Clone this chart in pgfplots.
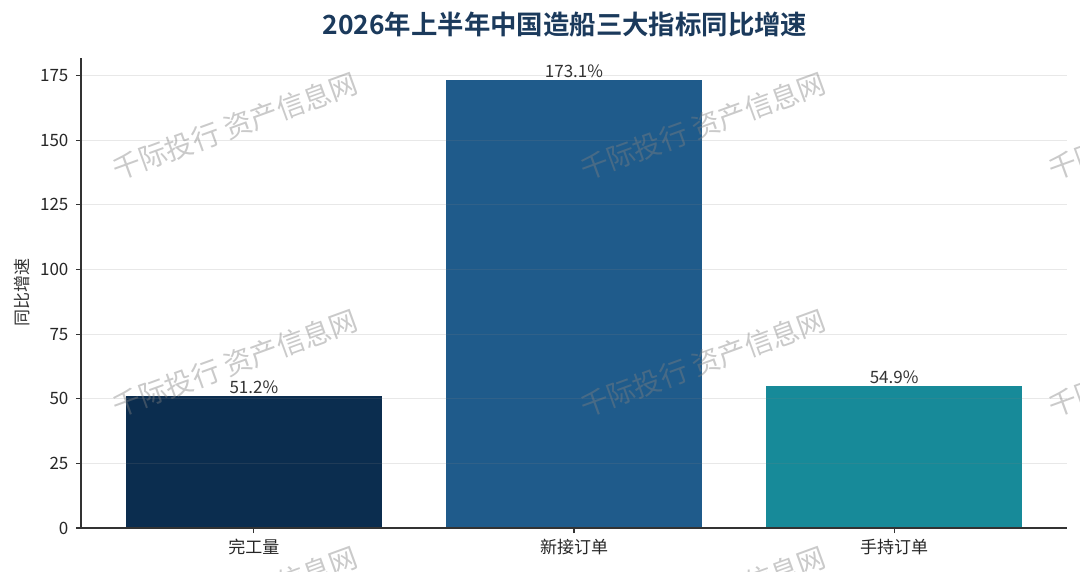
\documentclass[border=0pt]{standalone}
\usepackage{fontspec}
\setmainfont{Noto Sans CJK SC}[BoldFont={Noto Sans CJK SC Bold}]
\usepackage{pgfplots}
\pgfplotsset{compat=1.18}
\definecolor{titlec}{HTML}{1B3A5C}
\definecolor{barA}{HTML}{0B2D4F}
\definecolor{barB}{HTML}{1F5B8B}
\definecolor{barC}{HTML}{178A99}
\definecolor{txt}{HTML}{333333}
\definecolor{axc}{HTML}{333333}
\begin{document}
\begin{tikzpicture}
\begin{axis}[
  at={(0,0)}, anchor=south west,
  scale only axis, width=493pt, height=235pt,
  xmin=-0.54, xmax=2.54, ymin=0, ymax=181.8,
  axis x line*=bottom, axis y line*=left,
  axis line style={draw=axc, line width=0.6pt},
  tick align=outside, major tick length=2.5pt,
  tick style={draw=axc, line width=0.6pt},
  xtick={0,1,2}, xticklabels={完工量,新接订单,手持订单},
  ytick={0,25,50,75,100,125,150,175},
  /pgf/number format/assume math mode=true,
  tick label style={font=\fontsize{8.5}{10}\selectfont, text=black!85},
  yticklabel style={inner sep=0pt, xshift=-3.6pt},
  xticklabel style={inner sep=0pt, yshift=-3.0pt},
  ymajorgrids, major grid style={draw=gray, opacity=0.18, line width=0.5pt},
  axis on top,
  ybar, bar width=0.8, bar shift=0pt,
  point meta=explicit symbolic,
  nodes near coords,
  nodes near coords style={font=\fontsize{8.5}{10}\selectfont, text=txt, inner sep=0pt, yshift=1pt},
]
\addplot[fill=barA, draw=none] coordinates {(0,51.2) [51.2\%]};
\addplot[fill=barB, draw=none] coordinates {(1,173.1) [173.1\%]};
\addplot[fill=barC, draw=none] coordinates {(2,54.9) [54.9\%]};
\end{axis}
\node[font=\bfseries\fontsize{13.2}{16}\selectfont, text=titlec] at (242pt,251.5pt) {2026年上半年中国造船三大指标同比增速};
\node[rotate=90, font=\fontsize{8.5}{10}\selectfont, text=txt] at (-29.5pt,117.5pt) {同比增速};
\begin{scope}
\clip (-40.5pt,-22pt) rectangle (499.5pt,264pt);
\foreach \cx in {77,311,545} {
  \foreach \cy in {201,82.5,-36} {
    \node[rotate=20, font=\fontsize{14}{16}\selectfont, text=gray, opacity=0.42] at (\cx pt,\cy pt) {千际投行 资产信息网};
  }
}
\end{scope}
\pgfresetboundingbox
\path[use as bounding box] (-40.5pt,-22pt) rectangle (499.5pt,264pt);
\end{tikzpicture}
\end{document}
